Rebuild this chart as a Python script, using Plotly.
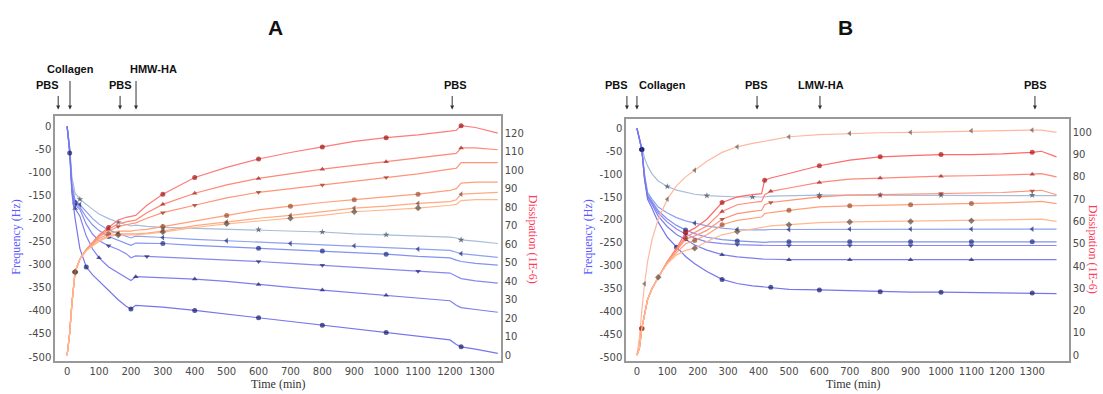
import plotly.graph_objects as go

# ---------------- Panel A data (time in min) ----------------
tA = [0, 8, 15, 25, 40, 60, 80, 100, 130, 160, 185, 200, 215, 250, 300, 400, 500, 600, 700, 800,
      900, 1000, 1100, 1200, 1220, 1235, 1280, 1350]
fA1 = [0, -45, -110, -145, -158, -170, -180, -190, -200, -208, -213, -216, -214, -217, -219, -221, -222, -224, -226, -229,
       -233, -235, -237, -240, -242, -246, -249, -254]
fA2 = [0, -48, -125, -160, -170, -185, -200, -212, -225, -232, -238, -242, -238, -239, -241, -245, -248, -251, -254, -256,
       -259, -262, -266, -269, -273, -276, -279, -284]
fA3 = [0, -50, -130, -165, -175, -197, -214, -226, -239, -247, -254, -258, -253, -253, -254, -258, -261, -264, -267, -270,
       -273, -277, -282, -285, -290, -293, -297, -301]
fA4 = [0, -52, -135, -170, -180, -212, -234, -248, -259, -267, -276, -285, -281, -282, -284, -287, -290, -293, -297, -301,
       -305, -309, -314, -318, -325, -330, -335, -340]
fA5 = [0, -55, -140, -178, -195, -238, -266, -285, -305, -318, -328, -334, -326, -327, -329, -331, -336, -343, -349, -355,
       -361, -366, -372, -378, -388, -393, -397, -403]
fA6 = [0, -58, -145, -200, -265, -305, -322, -336, -357, -376, -390, -396, -388, -389, -392, -399, -407, -415, -423, -431,
       -439, -447, -455, -463, -473, -478, -483, -492]
dA1 = [0, 12, 28, 45, 52, 57, 61, 65, 69, 73, 74.5, 75, 75.5, 81, 87, 96, 101.5, 106, 109.5, 112.5,
       115.5, 117.5, 119, 121, 121.5, 124, 123, 120]
dA2 = [0, 12, 28, 45, 52, 57, 61, 64.5, 68, 71, 72, 72.5, 73, 77, 81.5, 87.5, 92, 95.5, 98, 100.5,
       102.5, 104.5, 106.5, 108.5, 109, 112, 112, 111]
dA3 = [0, 12, 28, 45, 52, 57, 60.5, 64, 67, 69.5, 70.5, 71, 71.5, 74, 77, 81, 85, 88, 90, 92,
       94, 96, 98, 100.5, 101, 104, 104, 104]
dA4 = [0, 12, 28, 45, 52, 57, 60, 63, 65.5, 67, 67, 67, 67.5, 68, 69.5, 72.5, 75.5, 78.5, 80.5, 82.5,
       84, 85.5, 87, 89, 90, 93, 93.5, 93.5]
dA5 = [0, 12, 28, 45, 52, 56.5, 59.5, 62, 64.5, 65.5, 65.5, 65.5, 65.5, 66, 67, 70, 72, 74, 75.5, 77.5,
       79.5, 80.5, 82, 83, 84, 87, 87.5, 88]
dA6 = [0, 12, 28, 45, 52, 56.5, 59, 61.5, 64, 65, 65, 65, 65, 65.5, 66.5, 69, 71, 72.5, 74, 75.5,
       77.5, 78.5, 79.5, 81, 81.5, 83.5, 84, 84]

# marker times for panel A
mkA_f = [[40, 160, 300, 600, 800, 1000, 1235],
         [40, 160, 300, 500, 700, 900, 1100, 1235],
         [25, 130, 300, 600, 800, 1000],
         [25, 130, 250, 600, 800, 1100],
         [25, 100, 215, 400, 600, 800, 1000],
         [8, 60, 200, 400, 600, 800, 1000, 1235]]
mkA_d = [[25, 130, 300, 400, 600, 800, 1000, 1235],
         [25, 130, 300, 400, 600, 800, 1000, 1235],
         [25, 160, 300, 400, 600, 800, 1000],
         [25, 130, 300, 500, 700, 900, 1100],
         [25, 160, 300, 500, 700, 900, 1100, 1235],
         [25, 160, 300, 500, 700, 900, 1100]]

# ---------------- Panel B data ----------------
tB = [0, 8, 16, 25, 35, 50, 70, 100, 130, 160, 190, 230, 280, 330, 380, 410, 420, 440, 500, 600,
      700, 800, 900, 1000, 1100, 1200, 1300, 1330, 1380]
fB1 = [0, -20, -45, -65, -82, -100, -115, -127, -135, -140, -144, -147, -149, -150, -150, -151, -150, -148, -147, -146,
       -146, -146, -146, -146, -146, -146, -146, -146, -147]
fB2 = [0, -20, -46, -100, -140, -155, -172, -185, -195, -202, -207, -213, -218, -221, -222, -223, -222, -221, -221, -221,
       -220, -220, -220, -220, -220, -220, -220, -220, -220]
fB3 = [0, -20, -46, -105, -145, -160, -180, -198, -212, -222, -230, -238, -243, -246, -248, -249, -249, -248, -248, -248,
       -248, -248, -248, -248, -248, -248, -248, -248, -248]
fB4 = [0, -20, -46, -108, -148, -163, -185, -205, -220, -231, -240, -248, -252, -254, -255, -256, -256, -256, -256, -256,
       -256, -256, -256, -256, -256, -256, -256, -256, -256]
fB5 = [0, -20, -46, -110, -150, -167, -192, -215, -232, -243, -255, -266, -276, -281, -284, -286, -286, -286, -287, -287,
       -287, -287, -287, -287, -287, -287, -287, -287, -287]
fB6 = [0, -20, -46, -112, -155, -175, -205, -238, -260, -280, -296, -313, -330, -339, -344, -346, -346, -347, -352, -353,
       -355, -357, -358, -358, -359, -359, -360, -360, -361]
dB1 = [0, 8, 20, 32, 42, 52, 61, 70, 76, 80, 83, 87, 91, 93.5, 95, 95.5, 96, 96.5, 98, 99,
       99.5, 99.8, 100, 100.3, 100.7, 101, 101, 101, 100]
dB2 = [0, 3, 12, 19, 25, 30, 35, 42, 48, 55, 57, 61, 68.5, 71, 72, 72.5, 78.5, 79.5, 81.5, 85,
       87.5, 89, 89.5, 90, 90, 90.3, 91, 91.5, 89]
dB3 = [0, 3, 12, 19, 25, 30, 35, 42, 47.5, 53, 55, 58, 64.5, 67.5, 68.5, 69, 72, 73.5, 75, 77.5,
       79, 79.5, 80, 80.3, 80.5, 80.7, 81.2, 81.5, 80]
dB4 = [0, 3, 12, 19, 25, 30, 35, 42, 47, 52, 53.5, 56, 61, 63.5, 64.5, 65, 67.5, 68.5, 69.5, 71,
       71.8, 72, 72.3, 72.5, 72.8, 73, 73.7, 74, 72]
dB5 = [0, 3, 12, 19, 25, 30, 35, 41.5, 46, 50, 51.5, 54, 58.5, 60.5, 61.5, 62, 63.5, 64, 65, 66.5,
       67, 67.2, 67.5, 67.8, 68, 68.3, 68.8, 69, 68]
dB6 = [0, 3, 12, 19, 25, 30, 35, 41, 45, 47, 48, 51, 54, 55.5, 56.5, 57, 57.5, 58, 58.5, 59.5,
       59.8, 60, 60, 60.2, 60.3, 60.5, 60.8, 61, 60]

mkB_f = [[100, 230, 380, 600, 800, 1000, 1300],
         [16, 190, 330, 500, 700, 900, 1100, 1300],
         [16, 160, 330, 500, 700, 900, 1100, 1300],
         [16, 160, 330, 500, 700, 900, 1100],
         [16, 160, 280, 500, 700, 900, 1100],
         [16, 130, 280, 440, 600, 800, 1000, 1300]]
mkB_d = [[25, 100, 190, 330, 500, 700, 900, 1100, 1300],
         [16, 160, 280, 420, 600, 800, 1000, 1300],
         [16, 160, 280, 440, 600, 800, 1000, 1300],
         [16, 160, 280, 440, 600, 800, 1000, 1300],
         [16, 190, 280, 500, 700, 900, 1100],
         [70, 190, 330, 500, 700, 900, 1100]]

# ---------------- styles ----------------
f_line = ['#a8bcd8', '#8ea2ee', '#8292f0', '#8888f0', '#7e7eee', '#7676ec']
f_mk = ['#3c4a5c', '#1c2a78', '#1a2a80', '#1b1f70', '#1b1f6b', '#141a66']
f_sym = ['star', 'triangle-left', 'circle', 'triangle-down', 'triangle-up', 'circle']
d_line = ['#ff7a7a', '#ff8878', '#ff9478', '#ffa07a', '#ffaa80', '#ffb890']
d_mk = ['#a01010', '#a02020', '#9a3020', '#a04a2a', '#7a4a3a', '#5a4a40']
d_sym = ['circle', 'triangle-up', 'triangle-down', 'circle', 'triangle-left', 'diamond']

dB_line = ['#ffb8a0', '#ff6a6a', '#ff8878', '#ff9478', '#ffa07a', '#ffb890']
dB_mk = ['#6a5a50', '#b01010', '#a02020', '#9a3020', '#a04a2a', '#5a4a40']
dB_sym = ['triangle-left', 'circle', 'triangle-up', 'triangle-down', 'circle', 'diamond']

fig = go.Figure()


def add(t, vals, mk, color, mcolor, sym, xa, ya):
    sizes = [5 if tt in mk else 0 for tt in t]
    fig.add_trace(go.Scatter(x=t, y=vals, mode='lines+markers', xaxis=xa, yaxis=ya,
                             line=dict(color=color, width=1.2),
                             marker=dict(size=sizes, color=mcolor, symbol=sym, line=dict(width=0)),
                             showlegend=False, hoverinfo='skip'))


for i, v in enumerate([dA1, dA2, dA3, dA4, dA5, dA6]):
    add(tA, v, mkA_d[i], d_line[i], d_mk[i], d_sym[i], 'x', 'y2')
for i, v in enumerate([fA1, fA2, fA3, fA4, fA5, fA6]):
    add(tA, v, mkA_f[i], f_line[i], f_mk[i], f_sym[i], 'x', 'y')
for i, v in enumerate([dB1, dB2, dB3, dB4, dB5, dB6]):
    add(tB, v, mkB_d[i], dB_line[i], dB_mk[i], dB_sym[i], 'x2', 'y4')
for i, v in enumerate([fB1, fB2, fB3, fB4, fB5, fB6]):
    add(tB, v, mkB_f[i], f_line[i], f_mk[i], f_sym[i], 'x2', 'y3')

W, H = 1103, 394
tickfont = dict(family='DejaVu Sans', size=10, color='#4a4a4a')
framecol = '#999'
xticks = list(range(0, 1400, 100))
fticks = list(range(-500, 1, 50))
fticktext = [str(v) for v in fticks]

axis_common = dict(showgrid=False, zeroline=False, showline=True, linecolor=framecol, linewidth=1.5,
                   tickfont=tickfont, ticks='')


def px_x(p):
    return p / W


def px_y(p):
    return 1 - p / H


fig.update_layout(
    width=W, height=H, margin=dict(l=0, r=0, t=0, b=0),
    paper_bgcolor='white', plot_bgcolor='white',
    xaxis=dict(domain=[px_x(55), px_x(501)], anchor='y', range=[-38, 1360], tickvals=xticks,
               mirror=True, **axis_common),
    yaxis=dict(domain=[px_y(363), px_y(117)], anchor='x', range=[-509, 21.5], tickvals=fticks,
               ticktext=fticktext, **axis_common),
    yaxis2=dict(overlaying='y', side='right', anchor='x', range=[-3.2, 129],
                tickvals=list(range(0, 121, 10)), **axis_common),
    xaxis2=dict(domain=[px_x(626), px_x(1069)], anchor='y3', range=[-36, 1421], tickvals=xticks,
                mirror=True, **axis_common),
    yaxis3=dict(domain=[px_y(363), px_y(120)], anchor='x2', range=[-508.7, 19.6], tickvals=fticks,
                ticktext=fticktext, **axis_common),
    yaxis4=dict(overlaying='y3', side='right', anchor='x2', range=[-2.7, 105.8],
                tickvals=list(range(0, 101, 10)), **axis_common),
)

ann = []


def text_ann(text, x, y, font, angle=0):
    return dict(text=text, x=px_x(x), y=px_y(y), xref='paper', yref='paper', showarrow=False,
                xanchor='center', yanchor='middle', textangle=angle, font=font)


# panel letters
for txt, x in [('A', 275), ('B', 845)]:
    ann.append(text_ann('<b>%s</b>' % txt, x, 28, dict(family='Liberation Sans', size=21, color='#111')))

# axis titles
serif = 'Liberation Serif'
for x, xt in [(16, 278), (588, 853)]:
    ann.append(text_ann('Frequency (Hz)', x, 238, dict(family=serif, size=12, color='#5a5aff'), -90))
    ann.append(text_ann('Time (min)', xt, 386, dict(family=serif, size=12, color='#333')))
for x, y in [(533, 240), (1093, 250)]:
    ann.append(text_ann('Dissipation (1E-6)', x, y, dict(family=serif, size=12, color='#ff3a5a'), 90))

# event labels and arrows
labelfont = dict(family='Liberation Sans', size=11, color='#111')
eventsA = [('PBS', -28, 47, 85, 15), ('Collagen', 9, 70, 69, 30), ('PBS', 166, 120, 85, 15),
           ('HMW-HA', 216, 153, 69, 30), ('PBS', 1207, 455, 85, 15)]
eventsB = [('PBS', -33, 616, 85, 15), ('Collagen', 0, 662, 85, 15), ('PBS', 395, 756, 85, 15),
           ('LMW-HA', 602, 821, 85, 15), ('PBS', 1309, 1035, 85, 15)]
for events, xref in [(eventsA, 'x'), (eventsB, 'x2')]:
    for label, t, lx, ly, alen in events:
        ann.append(dict(text='', x=t, y=px_y(110), xref=xref, yref='paper', showarrow=True,
                        ax=0, ay=-alen, arrowhead=2, arrowsize=0.8, arrowwidth=1, arrowcolor='#333'))
        ann.append(text_ann('<b>%s</b>' % label, lx, ly, labelfont))

fig.update_layout(annotations=ann)
fig.write_html('out.html')
